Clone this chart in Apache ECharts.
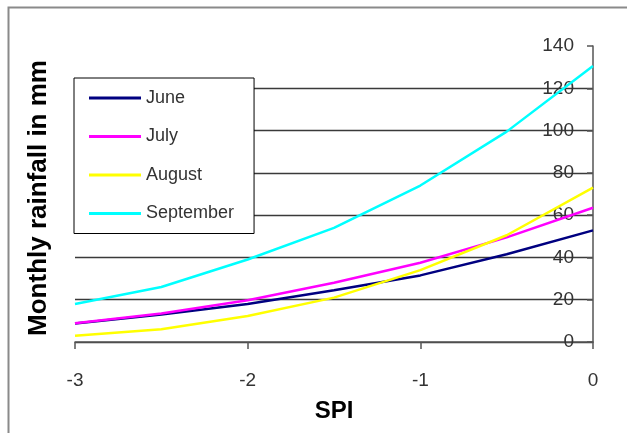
<!DOCTYPE html>
<html>
<head>
<meta charset="utf-8">
<script src="https://cdn.jsdelivr.net/npm/echarts@6/dist/echarts.min.js"></script>
<style>
  html, body { margin: 0; padding: 0; background: #fff; }
  #chart { width: 627px; height: 433px; }
</style>
</head>
<body>
<div id="chart"></div>
<script>
// SPI values on the horizontal axis
const spi = [-3, -2.5, -2, -1.5, -1, -0.5, 0];

// Monthly rainfall (mm) for each SPI value
const june      = [8.7, 13, 18, 24.5, 31.5, 41.5, 52.8];
const july      = [8.9, 13.5, 19.7, 28, 37.5, 49.5, 63.5];
const august    = [3, 6, 12.3, 21, 34, 50.5, 73];
const september = [18, 26, 39, 54, 74, 99.5, 130.5];

const seriesNames = ['June', 'July', 'August', 'September'];
const seriesColors = ['#000080', '#FF00FF', '#FFFF00', '#00FFFF'];
const seriesValues = [june, july, august, september];

const font = '"Liberation Sans", Arial, sans-serif';

const chart = echarts.init(document.getElementById('chart'), null, { renderer: 'canvas' });

chart.setOption({
  backgroundColor: '#ffffff',
  animation: false,
  grid: { left: 75, right: 34, top: 46, bottom: 91 },
  legend: {
    orient: 'vertical',
    left: 74,
    top: 78,
    padding: [10, 20, 10, 15],
    itemGap: 18.5,
    itemWidth: 52,
    itemHeight: 3,
    icon: 'rect',
    backgroundColor: '#ffffff',
    borderColor: '#000000',
    borderWidth: 1,
    borderRadius: 0,
    textStyle: { fontFamily: font, fontSize: 18, color: '#333', lineHeight: 20 },
    data: seriesNames
  },
  xAxis: {
    type: 'value',
    min: -3,
    max: 0,
    interval: 1,
    name: 'SPI',
    nameLocation: 'middle',
    nameGap: 57,
    nameTextStyle: { fontFamily: font, fontSize: 24, fontWeight: 'bold', color: '#000' },
    axisLine: { show: true, onZero: false, lineStyle: { color: '#555', width: 1.5 } },
    axisTick: { show: true, length: 7, lineStyle: { color: '#555', width: 1.5 } },
    axisLabel: { fontFamily: font, fontSize: 19, color: '#333', margin: 29 },
    splitLine: { show: false }
  },
  yAxis: {
    type: 'value',
    position: 'right',
    min: 0,
    max: 140,
    interval: 20,
    axisLine: { show: true, lineStyle: { color: '#555', width: 1.5 } },
    axisTick: { show: true, inside: true, length: 6, lineStyle: { color: '#555', width: 1.5 } },
    axisLabel: { inside: true, margin: 19, fontFamily: font, fontSize: 19, color: '#333' },
    splitLine: {
      show: true,
      lineStyle: {
        width: 1.3,
        color: ['#3a3a3a', '#3a3a3a', '#3a3a3a', '#3a3a3a', '#3a3a3a', '#3a3a3a', '#3a3a3a', 'rgba(0,0,0,0)']
      }
    }
  },
  graphic: [
    {
      type: 'rect',
      silent: true,
      z: -1,
      shape: { x: 8.5, y: 7.5, width: 700, height: 500 },
      style: { fill: 'none', stroke: '#8a8a8a', lineWidth: 2 }
    },
    {
      type: 'text',
      silent: true,
      x: 39,
      y: 198,
      rotation: Math.PI / 2,
      style: {
        text: 'Monthly rainfall in mm',
        fontFamily: font,
        fontSize: 26,
        fontWeight: 'bold',
        fill: '#000',
        align: 'center',
        verticalAlign: 'middle'
      }
    }
  ],
  series: seriesNames.map((name, i) => ({
    name: name,
    type: 'line',
    data: spi.map((x, j) => [x, seriesValues[i][j]]),
    showSymbol: false,
    symbol: 'none',
    smooth: false,
    lineStyle: { color: seriesColors[i], width: 2.5 },
    itemStyle: { color: seriesColors[i] }
  }))
});
</script>
</body>
</html>
